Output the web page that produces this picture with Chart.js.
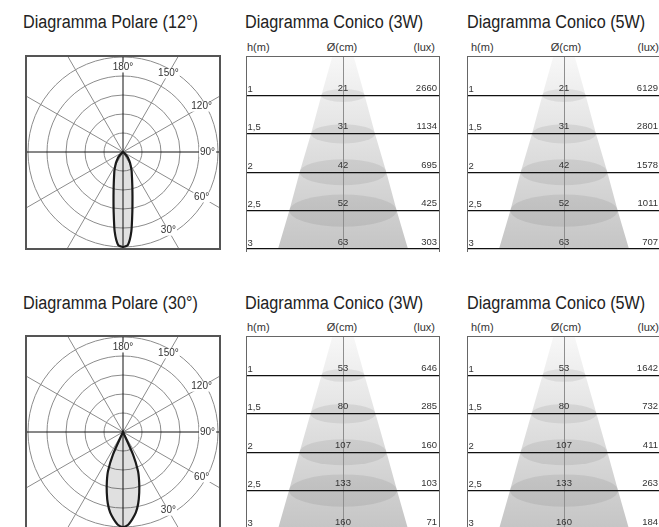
<!DOCTYPE html>
<html>
<head>
<meta charset="utf-8">
<script src="https://cdn.jsdelivr.net/npm/chart.js@4.4.1/dist/chart.umd.min.js"></script>
<style>
  body { margin: 0; width: 659px; height: 527px; overflow: hidden; background: #fff; position: relative;
         font-family: "Liberation Sans", Arial, sans-serif; color: #333; }
  .title { position: absolute; font-size: 18px; line-height: 20px; white-space: nowrap; color: #222;
           transform: scaleX(0.9); transform-origin: 0 0; }
  .hd { position: absolute; font-size: 11px; line-height: 12px; white-space: nowrap; color: #333; }
  .pbox { position: absolute; width: 192px; height: 191px; border: 2px solid #555; overflow: hidden; }
  .pbox canvas { position: absolute; left: -16px; top: -16px; }
  .cbox { position: absolute; width: 192px; height: 195px; border: 1px solid #666; border-bottom: none; overflow: hidden; }
  .cbox canvas { position: absolute; left: 0; top: 0; }
</style>
</head>
<body>
<div class="title" style="left:23px;top:12px">Diagramma Polare (12°)</div>
<div class="title" style="left:245px;top:12px">Diagramma Conico (3W)</div>
<div class="title" style="left:467px;top:12px">Diagramma Conico (5W)</div>
<div class="title" style="left:23px;top:293px">Diagramma Polare (30°)</div>
<div class="title" style="left:245px;top:293px">Diagramma Conico (3W)</div>
<div class="title" style="left:467px;top:293px">Diagramma Conico (5W)</div>

<div class="hd" style="left:247px;top:41px">h(m)</div>
<div class="hd" style="left:342px;top:41px;transform:translateX(-50%)">Ø(cm)</div>
<div class="hd" style="right:224px;top:41px">(lux)</div>
<div class="hd" style="left:471px;top:41px">h(m)</div>
<div class="hd" style="left:566px;top:41px;transform:translateX(-50%)">Ø(cm)</div>
<div class="hd" style="right:0px;top:41px">(lux)</div>
<div class="hd" style="left:247px;top:321px">h(m)</div>
<div class="hd" style="left:342px;top:321px;transform:translateX(-50%)">Ø(cm)</div>
<div class="hd" style="right:224px;top:321px">(lux)</div>
<div class="hd" style="left:471px;top:321px">h(m)</div>
<div class="hd" style="left:566px;top:321px;transform:translateX(-50%)">Ø(cm)</div>
<div class="hd" style="right:0px;top:321px">(lux)</div>

<div class="pbox" style="left:25px;top:55px"><canvas id="polar12" width="224" height="223"></canvas></div>
<div class="pbox" style="left:25px;top:335px"><canvas id="polar30" width="224" height="223"></canvas></div>
<div class="cbox" style="left:246px;top:56px"><canvas id="cone12a" width="192" height="193"></canvas></div>
<div class="cbox" style="left:467px;top:56px"><canvas id="cone12b" width="192" height="193"></canvas></div>
<div class="cbox" style="left:246px;top:336px"><canvas id="cone30a" width="192" height="193"></canvas></div>
<div class="cbox" style="left:467px;top:336px"><canvas id="cone30b" width="192" height="193"></canvas></div>

<script>
// heights (m) and per-height values
const heights = [1, 1.5, 2, 2.5, 3];
const diam12 = [21, 31, 42, 52, 63];
const lux12_3W = [2660, 1134, 695, 425, 303];
const lux12_5W = [6129, 2801, 1578, 1011, 707];
const diam30 = [53, 80, 107, 133, 160];
const lux30_3W = [646, 285, 160, 103, 71];
const lux30_5W = [1642, 732, 411, 263, 184];

// polar: angle labels and intensity profile from nadir, every 3 degrees (rings = 1..5)
const gammaTicks = [180, 150, 120, 90, 60, 30];
const ringValues = [0, 1, 2, 3, 4, 5];
const angleStep = 3;
const lobe12 = [5.0, 4.9, 4.2, 3.15, 2.4, 1.9, 1.55, 1.3, 1.12, 0.95, 0.8, 0.68, 0.56, 0.45, 0.35, 0.25, 0.15, 0.07, 0];
const lobe30 = [5.0, 4.9, 4.62, 4.3, 3.85, 3.3, 2.75, 2.2, 1.3, 0];

Chart.defaults.font.family = '"Liberation Sans", Arial, sans-serif';
Chart.defaults.color = '#333';

// directions clockwise from top (top = 180 deg, bottom = 0 deg)
const dirs = [];
for (let a = 0; a < 360; a += angleStep) dirs.push(a);

function lobeData(profile) {
  return dirs.map(a => {
    const k = Math.abs(a - 180) / angleStep;
    return k < profile.length ? profile[k] : 0;
  });
}

const polarLabels = {
  id: 'polarLabels',
  afterDraw(chart) {
    const r = chart.scales.r, ctx = chart.ctx;
    ctx.save();
    ctx.font = '10px "Liberation Sans", Arial, sans-serif';
    ctx.textAlign = 'center';
    ctx.textBaseline = 'middle';
    gammaTicks.forEach(g => {
      const idx = (180 - g) / angleStep;
      const p = r.getPointPositionForValue(idx, g % 90 === 0 ? 4.45 : 4.78);
      const txt = g + '°';
      const w = ctx.measureText(txt).width;
      ctx.fillStyle = '#fff';
      ctx.fillRect(p.x - w / 2 - 1, p.y - 5, w + 2, 10);
      ctx.fillStyle = '#333';
      ctx.fillText(txt, p.x, p.y);
    });
    ctx.restore();
  }
};

function polarChart(id, profile) {
  new Chart(document.getElementById(id), {
    type: 'radar',
    data: {
      labels: dirs,
      datasets: [{
        data: lobeData(profile),
        borderColor: '#1a1a1a',
        borderWidth: 2.2,
        backgroundColor: 'rgba(0,0,0,0.12)',
        fill: true,
        tension: 0.2,
        pointRadius: 0
      }]
    },
    options: {
      responsive: false,
      animation: false,
      events: [],
      plugins: { legend: { display: false }, tooltip: { enabled: false } },
      scales: {
        r: {
          min: 0,
          max: 5 * 111 / 95,
          afterBuildTicks: s => { s.ticks = ringValues.map(v => ({ value: v })); },
          ticks: { display: false },
          pointLabels: { display: false },
          grid: { circular: true, color: '#8c8c8c', lineWidth: 1 },
          angleLines: {
            color: c => c.index % 30 === 0 ? '#111' : '#8c8c8c',
            lineWidth: c => c.index % 10 === 0 ? 1 : 0
          }
        }
      }
    },
    plugins: [polarLabels]
  });
}

const coneMarks = {
  id: 'coneMarks',
  afterDatasetsDraw(chart, args, opts) {
    const { ctx, scales: { x, y } } = chart;
    const cx = x.getPixelForValue(0);
    ctx.save();
    ctx.fillStyle = 'rgba(0,0,0,0.07)';
    // the last ring sits on the bottom edge, not shown
    opts.diam.slice(0, -1).forEach((d, i) => {
      const rx = x.getPixelForValue(d / 2) - cx;
      ctx.beginPath();
      ctx.ellipse(cx, y.getPixelForValue(heights[i]), rx, rx * 0.3, 0, 0, Math.PI * 2);
      ctx.fill();
    });
    ctx.restore();
  },
  afterDraw(chart, args, opts) {
    const { ctx, chartArea, scales: { x, y } } = chart;
    ctx.save();
    ctx.font = '9.5px "Liberation Sans", Arial, sans-serif';
    ctx.fillStyle = '#333';
    ctx.textBaseline = 'middle';
    heights.forEach((h, i) => {
      const py = y.getPixelForValue(h);
      ctx.textAlign = 'left';
      ctx.fillText(String(h).replace('.', ','), chartArea.left + 0.5, py - 6);
      ctx.textAlign = 'center';
      ctx.fillText(opts.diam[i], x.getPixelForValue(0), py - 7);
      ctx.textAlign = 'right';
      ctx.fillText(opts.lux[i], chartArea.right - 2, py - 7);
    });
    ctx.restore();
  }
};

function coneGradient(c) {
  const area = c.chart.chartArea;
  if (!area) return '#ddd';
  const g = c.chart.ctx.createLinearGradient(0, area.top, 0, area.bottom);
  g.addColorStop(0, '#f7f7f7');
  g.addColorStop(1, '#c5c5c5');
  return g;
}

function coneChart(id, diam, lux) {
  const half = diam.map(d => d / 2);
  const edge = [{ x: 0, y: 0 }]
    .concat(heights.map((h, i) => ({ x: half[i], y: h })))
    .concat(heights.map((h, i) => ({ x: -half[i], y: h })).reverse());
  const xMax = half[half.length - 1] * 96 / 65;
  new Chart(document.getElementById(id), {
    type: 'scatter',
    data: {
      datasets: [{
        data: edge,
        showLine: true,
        fill: 'shape',
        borderWidth: 0,
        pointRadius: 0,
        backgroundColor: coneGradient
      }]
    },
    options: {
      responsive: false,
      animation: false,
      events: [],
      layout: { padding: { bottom: 1 } },
      plugins: { legend: { display: false }, tooltip: { enabled: false }, coneMarks: { diam: diam, lux: lux } },
      scales: {
        x: {
          type: 'linear', min: -xMax, max: xMax,
          afterBuildTicks: s => { s.ticks = [{ value: 0 }]; },
          ticks: { display: false },
          border: { display: false },
          grid: { z: 1, drawTicks: false, color: '#8e8e8e', lineWidth: 1 }
        },
        y: {
          type: 'linear', reverse: true, min: 0.5, max: 3,
          afterBuildTicks: s => { s.ticks = heights.map(v => ({ value: v })); },
          ticks: { display: false },
          border: { display: false },
          grid: { z: 1, drawTicks: false, color: '#111', lineWidth: 1.2 }
        }
      }
    },
    plugins: [coneMarks]
  });
}

polarChart('polar12', lobe12);
polarChart('polar30', lobe30);
coneChart('cone12a', diam12, lux12_3W);
coneChart('cone12b', diam12, lux12_5W);
coneChart('cone30a', diam30, lux30_3W);
coneChart('cone30b', diam30, lux30_5W);
</script>
</body>
</html>
